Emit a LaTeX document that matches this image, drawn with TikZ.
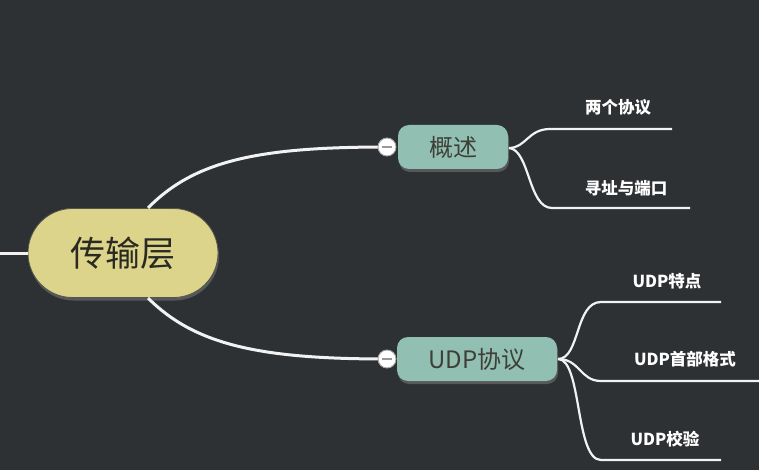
\documentclass[tikz,border=0pt]{standalone}
\usepackage{fontspec}
\setmainfont{Noto Sans CJK SC}
\usetikzlibrary{shapes.misc,shadows}
\definecolor{bgc}{HTML}{2E3134}
\definecolor{yel}{HTML}{DCD48A}
\definecolor{teal}{HTML}{91C0B2}
\definecolor{ink}{HTML}{2A2A22}
\definecolor{wire}{HTML}{F2F2F2}
\tikzset{
  root/.style={rounded rectangle, fill=yel, draw=ink!80, line width=0.8pt,
    minimum width=190pt, minimum height=89pt, inner sep=0pt,
    font=\fontsize{35}{40}\selectfont, text=ink,
    drop shadow={shadow xshift=1pt, shadow yshift=-3pt, opacity=0.5}},
  topic/.style={rounded corners=11pt, fill=teal, inner sep=0pt,
    minimum height=44pt, font=\fontsize{24}{28}\selectfont, text=ink!90,
    drop shadow={shadow xshift=1pt, shadow yshift=-3pt, opacity=0.5}},
  leaf/.style={font=\bfseries\fontsize{16.5}{19}\selectfont, text=white, inner sep=0pt},
  conn/.style={draw=wire, line width=3pt},
  fork/.style={draw=wire, line width=2.2pt},
  knob/.style={circle, fill=white, draw=gray!70, line width=0.9pt, minimum size=18pt, inner sep=0pt,
    path picture={\draw[gray!80, line width=1.4pt] ([xshift=-5pt]path picture bounding box.center) -- ([xshift=5pt]path picture bounding box.center);}}
}
\begin{document}
\begin{tikzpicture}[x=1pt,y=-1pt]
\fill[bgc] (0,0) rectangle (759,470);
\useasboundingbox (0,0) rectangle (759,470);

% left stub
\coordinate (lstub) at (0,253);

% main nodes
\node[root] (root) at (123,253) {传输层};
\node[topic, minimum width=110pt] (gs) at (453,147) {概述};
\node[topic, minimum width=160pt] (udp) at (477,359) {UDP协议};

% connectors from root
\coordinate (rtop) at (148,208);
\coordinate (rbot) at (148,298);
\coordinate (k1) at (387,147);
\coordinate (k2) at (387,359);

\draw[conn] (lstub) -- (root.west);
\draw[conn] (rtop) .. controls (195,160) and (260,147) .. (k1);
\draw[conn] (rbot) .. controls (195,345) and (260,359) .. (k2);
\node[knob] (kn1) at (k1) {};
\node[knob] (kn2) at (k2) {};

% 概述 branches
\coordinate (g0) at (509,148);
\coordinate (ga1) at (550,129);
\coordinate (gb1) at (672,129);
\coordinate (ga2) at (552,208);
\coordinate (gb2) at (690,208);
\draw[fork] (g0) .. controls (526,148) and (528,129) .. (ga1) -- (gb1);
\draw[fork] (g0) .. controls (530,150) and (528,208) .. (ga2) -- (gb2);
\node[leaf] (l1) at (618,107) {两个协议};
\node[leaf] (l2) at (626,188) {寻址与端口};

% UDP branches
\coordinate (u0) at (558,359);
\coordinate (ua1) at (601,302);
\coordinate (ub1) at (721,302);
\coordinate (ua2) at (601,381);
\coordinate (ub2) at (759,381);
\coordinate (ua3) at (601,460);
\coordinate (ub3) at (721,460);
\draw[fork] (u0) .. controls (580,359) and (575,302) .. (ua1) -- (ub1);
\draw[fork] (u0) .. controls (580,359) and (580,381) .. (ua2) -- (ub2);
\draw[fork] (u0) .. controls (582,359) and (575,460) .. (ua3) -- (ub3);
\node[leaf] (m1) at (667,281) {UDP特点};
\node[leaf] (m2) at (685,359) {UDP首部格式};
\node[leaf] (m3) at (665,439) {UDP校验};
\end{tikzpicture}
\end{document}
